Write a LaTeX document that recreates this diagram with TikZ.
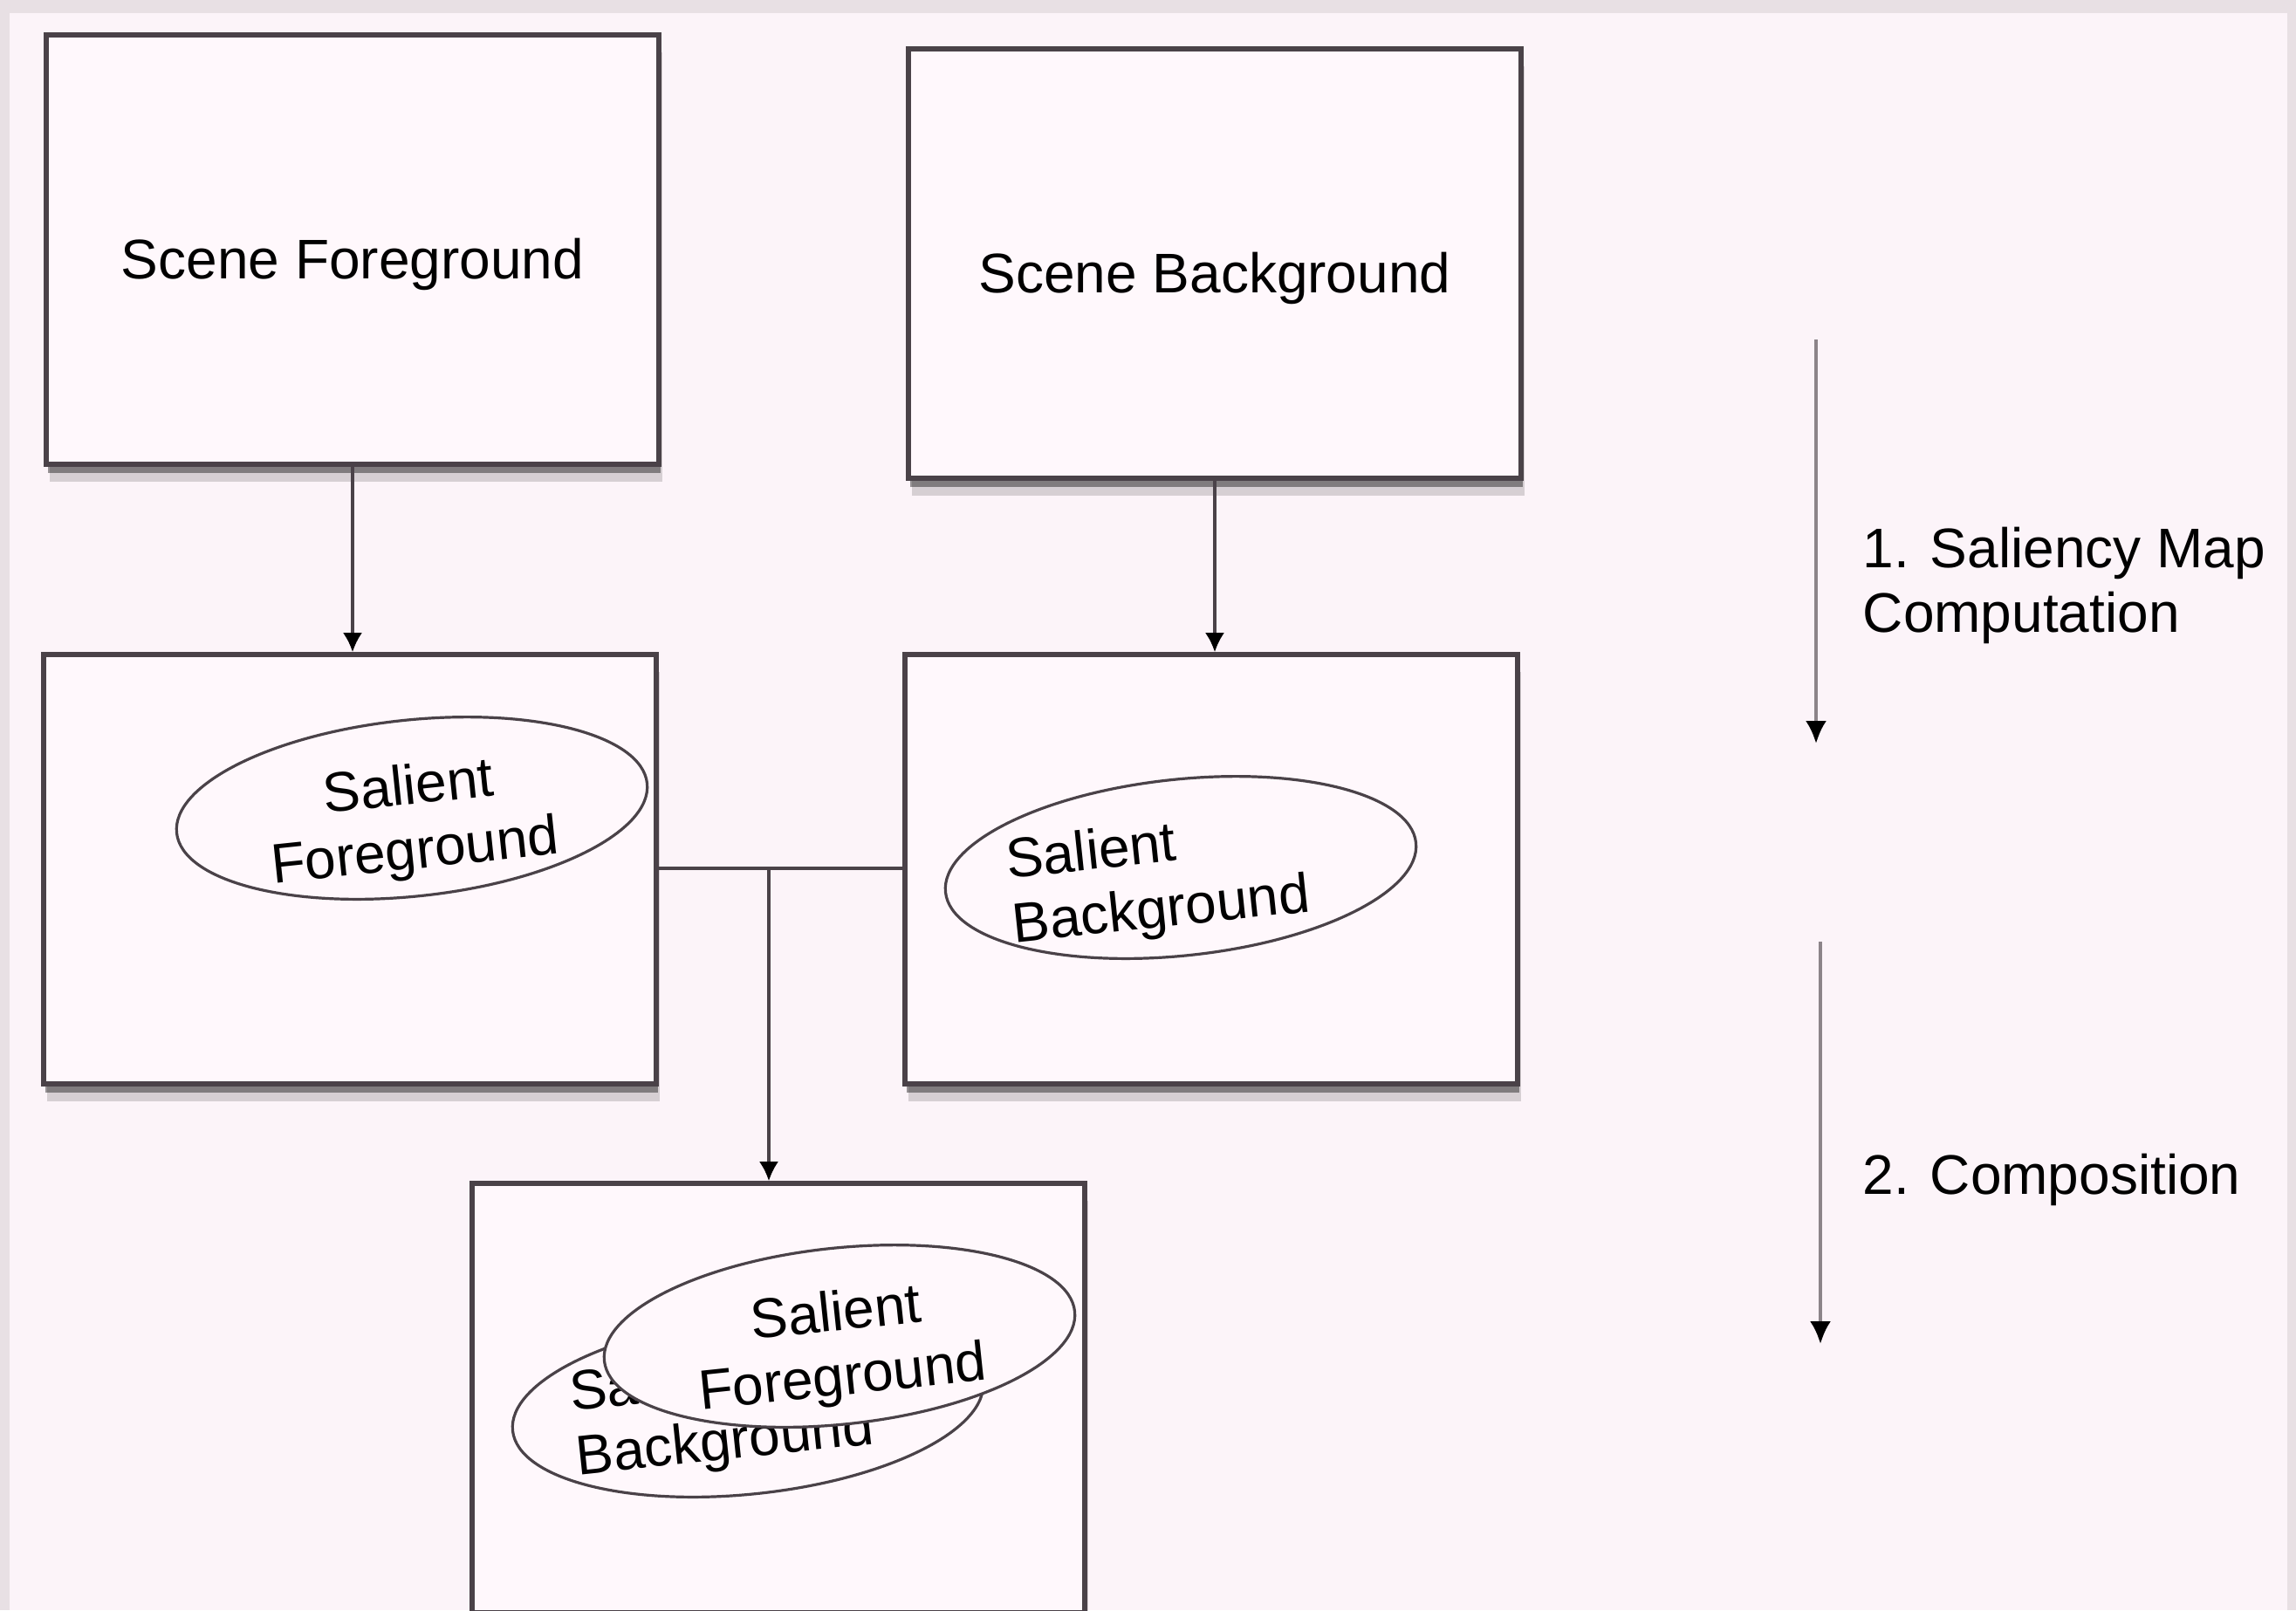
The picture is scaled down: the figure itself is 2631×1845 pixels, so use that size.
\documentclass[tikz,border=0pt]{standalone}
\usepackage{fontspec}
\setmainfont{Liberation Sans}
\usetikzlibrary{shapes.geometric,shadows,arrows.meta,calc}
\definecolor{bgpink}{HTML}{FCF4F9}
\definecolor{boxfill}{HTML}{FFF8FC}
\definecolor{edge}{HTML}{4A4248}
\definecolor{band}{HTML}{E8E0E4}
\definecolor{stagegray}{HTML}{8C8489}
\begin{document}
\begin{tikzpicture}[x=0.25pt,y=-0.25pt,
  font=\fontsize{16}{18.5}\selectfont,
  panel/.style={draw=edge, line width=1.4pt, fill=boxfill, inner sep=0pt,
    minimum width=175.5pt, minimum height=123pt,
    text height=16.5pt, text depth=0pt,
    drop shadow={shadow xshift=1pt, shadow yshift=-5pt, opacity=0.15, fill=black},
    drop shadow={shadow xshift=0.5pt, shadow yshift=-2.5pt, opacity=0.4, fill=black}},
  blob/.style={ellipse, draw=edge, line width=0.8pt, fill=boxfill, inner sep=0pt,
    minimum width=135.5pt, minimum height=50.5pt, rotate=6},
  blobtext/.style={inner sep=0pt, rotate=6},
  conn/.style={draw=edge, line width=0.8pt},
  arr/.style={conn, -{Latex[length=5.5pt,width=5.5pt,color=black]}},
  stage/.style={draw=stagegray, line width=1pt, -{Latex[length=6.5pt,width=6pt,color=black]}},
  steplabel/.style={anchor=west, align=left, inner sep=0pt}]
\useasboundingbox (0,0) rectangle (2631,1845);
\clip (0,0) rectangle (2631,1845);
\fill[bgpink] (0,0) rectangle (2631,1845);
\fill[band] (0,0) rectangle (2631,15);
\fill[band] (0,0) rectangle (11,1845);
\fill[band] (2621,0) rectangle (2631,1845);

% top row
\node[panel] (sf) at (404,286) {Scene Foreground};
\node[panel] (sb) at (1392,302) {Scene Background};

% middle row
\node[panel] (fgm) at (401,996) {};
\node[panel] (bgm) at (1388,996) {};
\node[blob] (sfg) at (472,926) {};
\node[blobtext, align=center] (sfgt) at ($(sfg.center)+(0,16)$) {Salient\\Foreground};
\node[blob] (sbg) at (1353,994) {};
\node[blobtext, align=left] (sbgt) at ($(sbg.center)+(-26,15)$) {Salient\\Background};

% bottom composite
\node[panel] (comp) at (892,1602) {};
\node[blob] (cbg) at (857,1611) {};
\node[blobtext, align=left] (cbgt) at ($(cbg.center)+(-30,8)$) {Salient\\Background};
\node[blob] (cfg) at (962,1531) {};
\node[blobtext, align=center] (cfgt) at ($(cfg.center)+(0,14)$) {Salient\\Foreground};

% connectors
\draw[arr] (sf.south) -- (sf.south |- fgm.north);
\draw[arr] (sb.south) -- (sb.south |- bgm.north);
\coordinate (j) at (881,995);
\draw[conn] (fgm.east |- j) -- (bgm.west |- j);
\draw[arr] (j) -- (j |- comp.north);

% stage arrows and labels
\coordinate (s1a) at (2081,389);
\coordinate (s1b) at (2081,852);
\coordinate (s2a) at (2086,1079);
\coordinate (s2b) at (2086,1540);
\draw[stage] (s1a) -- (s1b);
\draw[stage] (s2a) -- (s2b);
\node[steplabel] (l1) at (2134,671) {1. Saliency Map\\Computation};
\node[steplabel] (l2) at (2134,1352) {2. Composition};
\end{tikzpicture}
\end{document}
